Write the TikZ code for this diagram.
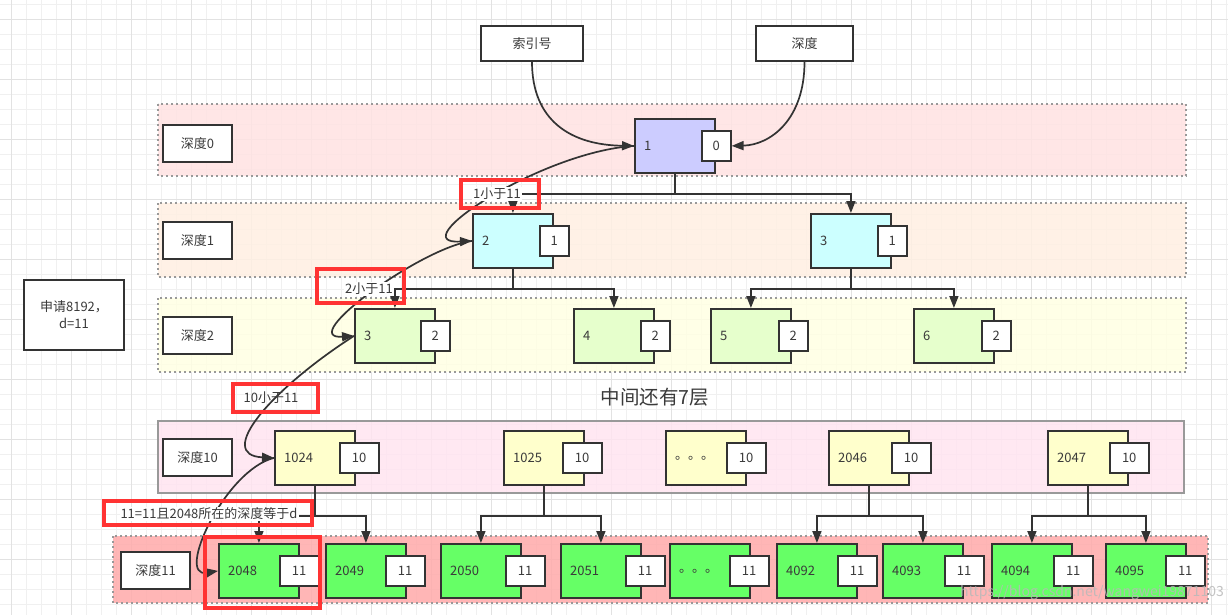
\documentclass[tikz,border=0pt]{standalone}
\usepackage{fontspec}
\setmainfont{Noto Sans CJK SC}
\usetikzlibrary{arrows.meta}
\definecolor{ink}{HTML}{333333}
\definecolor{txt}{HTML}{3A3A3A}
\definecolor{gridmin}{HTML}{F0F0F0}
\definecolor{gridmaj}{HTML}{E2E2E2}
\definecolor{bandA}{HTML}{FFE2E2}
\definecolor{bandB}{HTML}{FFEFE2}
\definecolor{bandC}{HTML}{FFFFE3}
\definecolor{bandD}{HTML}{FFE4F0}
\definecolor{bandE}{HTML}{FFAAAA}
\definecolor{bandline}{HTML}{999999}
\definecolor{nodeA}{HTML}{CCCCFF}
\definecolor{nodeB}{HTML}{CCFFFF}
\definecolor{nodeC}{HTML}{E6FFCC}
\definecolor{nodeD}{HTML}{FFFFCC}
\definecolor{nodeE}{HTML}{66FF66}
\definecolor{mark}{HTML}{FF3333}
\newcommand\treenode[8]{%
  \node[mainbox, fill=#4, anchor=north west] (#1) at (#2,#3) {};
  \node[numtxt, anchor=west] (#1l) at ([xshift=10pt]#1.west) {#5};
  \node[smallbox, minimum width=#7pt, anchor=west] (#1d) at ([xshift=-#8pt]#1.east) {#6};
}
\begin{document}
\begin{tikzpicture}[x=1pt,y=-1pt,
  band/.style={draw=bandline, line width=1.6pt, dash pattern=on 2pt off 3pt, fill opacity=0.85},
  mainbox/.style={draw=ink, line width=1.8pt, minimum width=80pt, minimum height=54pt, inner sep=0pt},
  smallbox/.style={draw=ink, fill=white, line width=1.8pt, minimum height=30pt, inner sep=0pt, text=txt, font=\fontsize{13}{15}\selectfont},
  numtxt/.style={inner sep=0pt, text=txt, font=\fontsize{13}{15}\selectfont},
  plainbox/.style={draw=ink, fill=white, line width=1.8pt, inner sep=0pt, text=txt, font=\fontsize{13}{15}\selectfont},
  edge/.style={draw=ink, line width=1.7pt, -{Triangle[length=12pt,width=9pt]}},
  redbox/.style={draw=mark, line width=3.4pt, inner sep=0pt},
  lbl/.style={inner sep=1pt, text=txt, font=\fontsize{13}{15}\selectfont}
]
\useasboundingbox (0,0) rectangle (1228,615);
\fill[white] (0,0) rectangle (1228,615);
% grid
\begin{scope}[shift={(11.7,19.3)}]
  \draw[gridmin, line width=0.8pt, step=15pt] (-15,-30) grid (1230,600);
  \draw[gridmaj, line width=0.9pt, step=60pt] (-15,-30) grid (1230,600);
\end{scope}
% bands
\path[band, fill=bandA] (158,104) rectangle (1186,176);
\path[band, fill=bandB] (158,203) rectangle (1186,277);
\path[band, fill=bandC] (158,298) rectangle (1186,372);
\path[draw=bandline, line width=1.8pt, fill=bandD, fill opacity=0.85] (158,421) rectangle (1184,493);
\path[band, fill=bandE] (113,536) rectangle (1208,603);
% depth labels
\node[plainbox, minimum width=69pt, minimum height=37pt] (d0) at (197.5,143.5) {深度0};
\node[plainbox, minimum width=69pt, minimum height=37pt] (d1) at (197.5,240.5) {深度1};
\node[plainbox, minimum width=69pt, minimum height=37pt] (d2) at (197.5,335.5) {深度2};
\node[plainbox, minimum width=69pt, minimum height=37pt] (d10) at (197.5,457.5) {深度10};
\node[plainbox, minimum width=69pt, minimum height=37pt] (d11) at (155.5,570.5) {深度11};
% request box
\node[plainbox, minimum width=100pt, minimum height=70pt, align=center, font=\fontsize{13}{17}\selectfont] (req) at (74,315) {申请8192，\\d=11};
% top boxes
\node[plainbox, minimum width=102pt, minimum height=35pt] (idx) at (532,43.5) {索引号};
\node[plainbox, minimum width=97pt, minimum height=35pt] (dep) at (804.5,43.5) {深度};
% middle text
\node[lbl, font=\fontsize{19.5}{22}\selectfont] (mid) at (655,397) {中间还有7层};
% tree nodes
\treenode{n1}{634}{118}{nodeA}{1}{0}{29}{15}
\treenode{n2}{472}{213}{nodeB}{2}{1}{29}{15}
\treenode{n3}{810}{213}{nodeB}{3}{1}{29}{15}
\treenode{m3}{354}{308}{nodeC}{3}{2}{29}{16}
\treenode{m4}{573}{308}{nodeC}{4}{2}{29}{15}
\treenode{m5}{710}{308}{nodeC}{5}{2}{29}{14}
\treenode{m6}{913}{308}{nodeC}{6}{2}{29}{14}
\treenode{k1024}{274}{430}{nodeD}{1024}{10}{39}{17}
\treenode{k1025}{503}{430}{nodeD}{1025}{10}{39}{23}
\treenode{kdots}{665}{430}{nodeD}{。。。}{10}{39}{21}
\treenode{k2046}{828}{430}{nodeD}{2046}{10}{39}{19}
\treenode{k2047}{1047}{430}{nodeD}{2047}{10}{39}{20}
\treenode{p2048}{218}{543}{nodeE}{2048}{11}{39}{21}
\treenode{p2049}{325}{543}{nodeE}{2049}{11}{39}{22}
\treenode{p2050}{440}{543}{nodeE}{2050}{11}{39}{17}
\treenode{p2051}{560}{543}{nodeE}{2051}{11}{39}{17}
\treenode{pdots}{669}{543}{nodeE}{。。。}{11}{39}{22}
\treenode{p4092}{776}{543}{nodeE}{4092}{11}{39}{21}
\treenode{p4093}{882}{543}{nodeE}{4093}{11}{39}{20}
\treenode{p4094}{991}{543}{nodeE}{4094}{11}{39}{20}
\treenode{p4095}{1105}{543}{nodeE}{4095}{11}{39}{22}
% tree edges
\draw[edge] (n1.south) -- ++(0,20) -| (n2.north);
\draw[edge] (n1.south) -- ++(0,20) -| (n3.north);
\draw[edge] (n2.south) -- ++(0,20) -| (m3.north);
\draw[edge] (n2.south) -- ++(0,20) -| (m4.north);
\draw[edge] (n3.south) -- ++(0,20) -| (m5.north);
\draw[edge] (n3.south) -- ++(0,20) -| (m6.north);
\draw[edge] (k1024.south) -- ++(0,30) -| (p2048.north);
\draw[edge] (k1024.south) -- ++(0,30) -| (p2049.north);
\draw[edge] (k1025.south) -- ++(0,30) -| (p2050.north);
\draw[edge] (k1025.south) -- ++(0,30) -| (p2051.north);
\draw[edge] (k2046.south) -- ++(0,30) -| (p4092.north);
\draw[edge] (k2046.south) -- ++(0,30) -| (p4093.north);
\draw[edge] (k2047.south) -- ++(0,30) -| (p4094.north);
\draw[edge] (k2047.south) -- ++(0,30) -| (p4095.north);
% input curves
\draw[edge] (idx.south) .. controls (532,120) and (570,145) .. (n1.west);
\draw[edge] (dep.south) .. controls (804.5,120) and (770,145) .. (n1d.east);
% trace curves
\draw[edge] (n1.west) .. controls (540,152) and (400,245) .. (n2.west);
\draw[edge] (n2.west) .. controls (420,248) and (295,340) .. (m3.west);
\draw[edge] (m3.west) .. controls (270,390) and (215,455) .. (k1024.west);
\draw[edge] (k1024.west) .. controls (225,470) and (175,578) .. (p2048.west);
% labels
\node[lbl, fill=white] (t1) at (497,194) {1小于11};
\node[lbl, fill=white] (t2) at (369,289) {2小于11};
\node[lbl] (t3) at (271,398) {10小于11};
\node[lbl, fill=white] (t4) at (209,514) {11=11且2048所在的深度等于d};
% red marks
\node[redbox, minimum width=78pt, minimum height=28pt] (r1) at (500,194) {};
\node[redbox, minimum width=87pt, minimum height=34pt] (r2) at (360.5,286) {};
\node[redbox, minimum width=85pt, minimum height=28pt] (r3) at (275.5,398) {};
\node[redbox, minimum width=208pt, minimum height=24pt] (r4) at (208,513) {};
\node[redbox, minimum width=115pt, minimum height=71pt] (r5) at (262.5,572.5) {};
% watermark
\node[anchor=east, inner sep=0pt, text=gray!55, text opacity=0.85, font=\fontsize{14}{16}\selectfont] (wm) at (1224,593) {https://blog.csdn.net/wangwei19871103};
\end{tikzpicture}
\end{document}
